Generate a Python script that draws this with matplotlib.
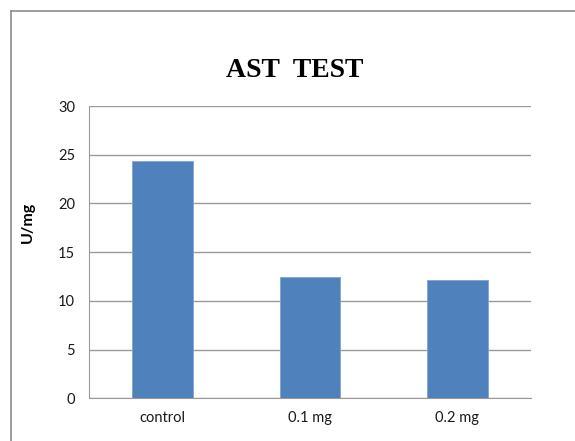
import matplotlib
matplotlib.use("Agg")
import matplotlib.pyplot as plt
from matplotlib.lines import Line2D

# values
groups = ["control", "0.1 mg", "0.2 mg"]
ast_values = [24.4, 12.45, 12.15]
y_ticks = [0, 5, 10, 15, 20, 25, 30]

plt.rcParams['font.family'] = ['Lato', 'DejaVu Sans']

fig = plt.figure(figsize=(5.75, 4.41), dpi=100)
ax = fig.add_axes([0.1548, 0.0968, 0.7687, 0.6628])

ax.bar(groups, ast_values, width=0.41, color="#4F81BD",
       edgecolor="#7FA3CF", linewidth=0.6, zorder=3)

ax.set_ylim(0, 30)
ax.set_xlim(-0.5, 2.5)
ax.set_yticks(y_ticks)
ax.yaxis.grid(True, color="#9A9A9A", linewidth=1.0, zorder=0)
ax.set_axisbelow(True)

for side in ["top", "right"]:
    ax.spines[side].set_visible(False)
ax.spines["left"].set_color("#9A9A9A")
ax.spines["bottom"].set_color("#9A9A9A")

ax.tick_params(axis="both", length=0, labelsize=10.5, labelcolor="#1a1a1a")
ax.tick_params(axis="y", pad=10)
ax.tick_params(axis="x", pad=9)

# title and axis label placed like the Excel original
fig.text(0.513, 0.8254, "AST  TEST", ha="center", va="baseline",
         fontsize=20, fontweight="bold", family="Liberation Serif")
fig.text(0.0487, 0.4966, "U/mg", rotation=90, ha="center", va="center",
         fontsize=11.5, fontweight="bold")

# outer chart frame (left and top edges visible)
fx, fy = 10.5 / 575, 1 - 10.7 / 441
fig.add_artist(Line2D([fx, fx], [0, fy], color="#8C8C8C", linewidth=1.2))
fig.add_artist(Line2D([fx, 1], [fy, fy], color="#8C8C8C", linewidth=1.2))

fig.savefig("out.png", dpi=100)
